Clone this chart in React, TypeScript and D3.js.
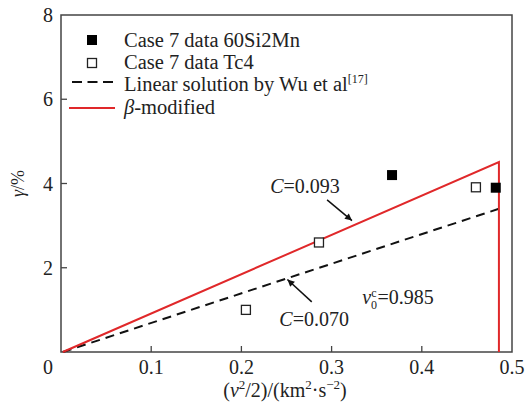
import * as d3 from "d3";

// Case 7 data, 60Si2Mn (filled squares)
const si2mnX = [0.367, 0.482];
const si2mnY = [4.2, 3.9];
// Case 7 data, Tc4 (open squares)
const tc4X = [0.205, 0.286, 0.46];
const tc4Y = [1.0, 2.6, 3.91];
// beta-modified curve (C = 0.093) and Wu linear solution (C = 0.070)
const redX = [0.002, 0.4855, 0.4855];
const redY = [0, 4.51, 0];
const wuX = [0.002, 0.4855];
const wuY = [0, 3.4];

const xTicks = [0, 0.1, 0.2, 0.3, 0.4, 0.5];
const yTicks = [2, 4, 6, 8];

const width = 526;
const height = 403;
const margin = { top: 15, right: 14, bottom: 51, left: 61 };
const ink = "#222";
const red = "#e0282a";
const fam = "Liberation Serif";
const tf = { fontFamily: fam };

const x = d3.scaleLinear().domain([0, 0.5]).range([margin.left, width - margin.right]);
const y = d3.scaleLinear().domain([0, 8]).range([height - margin.bottom, margin.top]);

const path = (xs: number[], ys: number[]) =>
  d3.line<number>().x((d) => x(d)).y((_, i) => y(ys[i]))(xs) || "";

function Arrow({ x1, y1, x2, y2 }: { x1: number; y1: number; x2: number; y2: number }) {
  return (
    <line x1={x(x1)} y1={y(y1)} x2={x(x2)} y2={y(y2)} stroke="#111" strokeWidth={1.5} markerEnd="url(#arr)" />
  );
}

function CLabel({ px, py, c }: { px: number; py: number; c: string }) {
  return (
    <text x={x(px)} y={y(py)} fontSize={20} fill={ink} fontFamily={fam} style={tf}>
      <tspan fontStyle="italic">C</tspan>
      <tspan>{"=" + c}</tspan>
    </text>
  );
}

export default function App() {
  const sz = 10;
  const vx = x(0.334);
  const vy = y(1.14);
  return (
    <svg
      width={width}
      height={height}
      fontFamily={fam}
      style={{ position: "absolute", left: 0, top: 0, background: "#fff", fontFamily: fam }}
    >
      <style>{`text, tspan { font-family: "Liberation Serif", "Times New Roman", serif !important; }`}</style>
      <defs>
        <marker
          id="arr"
          viewBox="0 0 10 10"
          refX={10}
          refY={5}
          markerWidth={10}
          markerHeight={7}
          markerUnits="userSpaceOnUse"
          orient="auto"
        >
          <path d="M0,0L10,5L0,10z" fill="#111" />
        </marker>
      </defs>

      {/* frame */}
      <rect
        x={x(0)}
        y={y(8)}
        width={x(0.5) - x(0)}
        height={y(0) - y(8)}
        fill="none"
        stroke="#444"
        strokeWidth={1.5}
      />

      {/* inward ticks */}
      {xTicks.slice(1, -1).map((d) => (
        <line key={"xt" + d} x1={x(d)} x2={x(d)} y1={y(0)} y2={y(0) - 6} stroke="#444" strokeWidth={1.3} />
      ))}
      {yTicks.slice(0, -1).map((d) => (
        <line key={"yt" + d} x1={x(0)} x2={x(0) + 6} y1={y(d)} y2={y(d)} stroke="#444" strokeWidth={1.3} />
      ))}

      {/* tick labels */}
      {xTicks.map((d) => (
        <text
          key={"xl" + d}
          x={d === 0 ? x(0) - 13 : x(d)}
          y={y(0) + 22}
          textAnchor="middle"
          fontSize={20}
          fill={ink}
          fontFamily={fam}
          style={tf}
        >
          {String(d)}
        </text>
      ))}
      {yTicks.map((d) => (
        <text
          key={"yl" + d}
          x={x(0) - 8}
          y={y(d) + 7}
          textAnchor="end"
          fontSize={20}
          fill={ink}
          fontFamily={fam}
          style={tf}
        >
          {String(d)}
        </text>
      ))}

      {/* axis titles */}
      <text
        transform={`translate(24,${y(4)}) rotate(-90)`}
        textAnchor="middle"
        fontSize={18}
        fill={ink}
        fontFamily={fam}
        style={tf}
      >
        <tspan fontStyle="italic">γ</tspan>
        <tspan>/%</tspan>
      </text>
      <text x={285} y={397} textAnchor="middle" fontSize={20} fill={ink} fontFamily={fam} style={tf}>
        <tspan>(</tspan>
        <tspan fontStyle="italic">v</tspan>
        <tspan fontSize={13} dy={-8}>2</tspan>
        <tspan dy={8}>/2)/(km</tspan>
        <tspan fontSize={13} dy={-8}>2</tspan>
        <tspan dy={8}>·s</tspan>
        <tspan fontSize={13} dy={-8}>−2</tspan>
        <tspan dy={8}>)</tspan>
      </text>

      {/* curves */}
      <path d={path(wuX, wuY)} fill="none" stroke="#111" strokeWidth={2} strokeDasharray="9,6" />
      <path d={path(redX, redY)} fill="none" stroke={red} strokeWidth={2} />

      {/* data */}
      {si2mnX.map((d, i) => (
        <rect key={"s" + i} x={x(d) - sz / 2} y={y(si2mnY[i]) - sz / 2} width={sz} height={sz} fill="#000" />
      ))}
      {tc4X.map((d, i) => (
        <rect
          key={"t" + i}
          x={x(d) - (sz - 1) / 2}
          y={y(tc4Y[i]) - (sz - 1) / 2}
          width={sz - 1}
          height={sz - 1}
          fill="#fff"
          stroke="#222"
          strokeWidth={1.3}
        />
      ))}

      {/* annotations */}
      <CLabel px={0.232} py={3.78} c="0.093" />
      <Arrow x1={0.295} y1={3.61} x2={0.3226} y2={3.12} />
      <CLabel px={0.242} py={0.62} c="0.070" />
      <Arrow x1={0.278} y1={1.19} x2={0.251} y2={1.72} />

      <text x={vx} y={vy} fontSize={20} fill={ink} fontFamily={fam} style={tf}>
        <tspan fontStyle="italic">v</tspan>
        <tspan fontSize={12} dy={-7}>c</tspan>
        <tspan fontSize={12} dx={-5.5} dy={12}>0</tspan>
        <tspan dx={0.5} dy={-5}>=0.985</tspan>
      </text>

      {/* legend */}
      <rect x={87} y={35} width={10} height={10} fill="#000" />
      <rect x={87.5} y={58.5} width={9} height={9} fill="#fff" stroke="#222" strokeWidth={1.3} />
      <line x1={72} x2={113} y1={82} y2={82} stroke="#111" strokeWidth={2} strokeDasharray="10,5.5" />
      <line x1={69} x2={115} y1={108} y2={108} stroke={red} strokeWidth={2} />
      <text x={124} y={47} fontSize={20.5} fill={ink} fontFamily={fam} style={tf}>
        Case 7 data 60Si2Mn
      </text>
      <text x={124} y={69} fontSize={20.5} fill={ink} fontFamily={fam} style={tf}>
        Case 7 data Tc4
      </text>
      <text x={124} y={91} fontSize={20.5} fill={ink} fontFamily={fam} style={tf}>
        <tspan>Linear solution by Wu et al</tspan>
        <tspan fontSize={12} dy={-8}>[17]</tspan>
      </text>
      <text x={124} y={114} fontSize={20.5} fill={ink} fontFamily={fam} style={tf}>
        <tspan fontStyle="italic">β</tspan>
        <tspan>-modified</tspan>
      </text>
    </svg>
  );
}
